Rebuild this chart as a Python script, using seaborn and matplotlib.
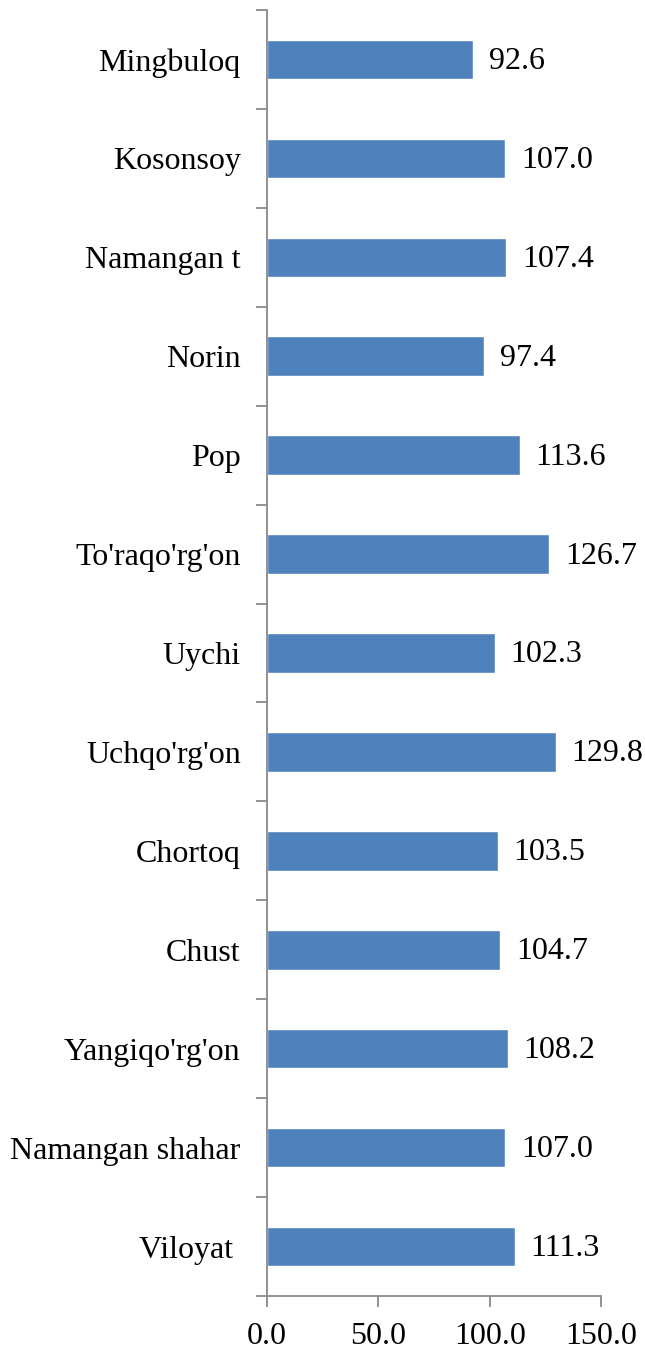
import numpy as np
import pandas as pd
import seaborn as sns
import matplotlib.pyplot as plt
from matplotlib.ticker import FixedLocator

districts = ['Mingbuloq', 'Kosonsoy', 'Namangan t', 'Norin', 'Pop', "To'raqo'rg'on",
             'Uychi', "Uchqo'rg'on", 'Chortoq', 'Chust', "Yangiqo'rg'on",
             'Namangan shahar', 'Viloyat ']
values = [92.6, 107.0, 107.4, 97.4, 113.6, 126.7, 102.3, 129.8, 103.5, 104.7, 108.2, 107.0, 111.3]
x_ticks = [0, 50, 100, 150]

df = pd.DataFrame({'district': districts, 'value': values})

sns.set_style('white')
plt.rcParams['font.family'] = ['Liberation Serif', 'DejaVu Serif']
plt.rcParams['text.color'] = 'black'
plt.rcParams['xtick.color'] = 'black'
plt.rcParams['ytick.color'] = 'black'

fig = plt.figure(figsize=(6.45, 13.49), dpi=100)
ax = fig.add_axes([0.414, 0.0393, 0.518, 0.9533])

sns.barplot(data=df, x='value', y='district', order=districts, orient='h',
            color='#4F81BD', saturation=1, width=0.4, ax=ax)

# value labels next to each bar
for i, v in enumerate(values):
    ax.text(v + 7.0, i + 0.02, f'{v:.1f}', va='center', ha='left', fontsize=23, color='black')

ax.set_xlim(0, 150)
ax.set_ylim(len(districts) - 0.5, -0.5)
ax.set_xticks(x_ticks)
ax.set_xticklabels([f'{t:.1f}' for t in x_ticks], fontsize=23)
ax.set_yticks(range(len(districts)))
ax.set_yticklabels(districts, fontsize=23)
ax.yaxis.set_minor_locator(FixedLocator(np.arange(-0.5, len(districts), 1)))
ax.tick_params(axis='y', which='major', length=0, pad=19, labelcolor='black')
ax.tick_params(axis='y', which='minor', length=8, width=1.3, color='#898989', left=True)
ax.tick_params(axis='x', length=8, width=1.3, color='#898989', labelcolor='black', bottom=True, pad=11)
ax.set_xlabel('')
ax.set_ylabel('')

for s in ['top', 'right']:
    ax.spines[s].set_visible(False)
for s in ['left', 'bottom']:
    ax.spines[s].set_color('#898989')
    ax.spines[s].set_linewidth(1.3)

fig.savefig('out.png', dpi=100)
